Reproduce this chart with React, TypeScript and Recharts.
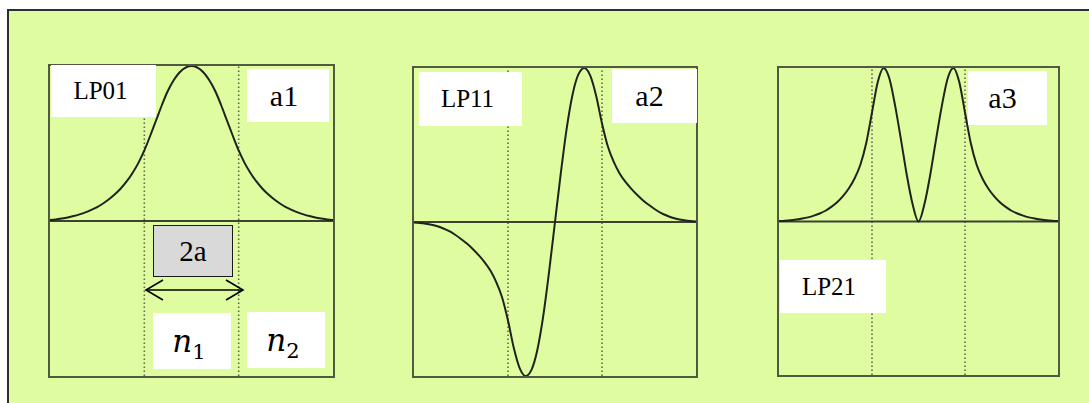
import React from 'react';
import { LineChart, Line, XAxis, YAxis, ReferenceLine } from 'recharts';

// position across the fibre, in core radii (core = -1..1)
const U = [
  -3, -2.875, -2.75, -2.625, -2.5, -2.375, -2.25, -2.125, -2, -1.875, -1.75, -1.625, -1.5,
  -1.375, -1.25, -1.125, -1, -0.875, -0.75, -0.625, -0.5, -0.375, -0.25, -0.125, 0,
  0.125, 0.25, 0.375, 0.5, 0.625, 0.75, 0.875, 1, 1.125, 1.25, 1.375, 1.5, 1.625, 1.75,
  1.875, 2, 2.125, 2.25, 2.375, 2.5, 2.625, 2.75, 2.875, 3,
];

const LP01 = [
  0.006, 0.01, 0.016, 0.023, 0.032, 0.043, 0.056, 0.072, 0.09, 0.113, 0.14, 0.172, 0.21,
  0.255, 0.31, 0.375, 0.455, 0.55, 0.65, 0.75, 0.84, 0.91, 0.96, 0.99, 1.0,
  0.99, 0.96, 0.91, 0.84, 0.75, 0.65, 0.55, 0.455, 0.375, 0.31, 0.255, 0.21, 0.172, 0.14,
  0.113, 0.09, 0.072, 0.056, 0.043, 0.032, 0.023, 0.016, 0.01, 0.006,
];

const LP11 = [
  -0.003, -0.006, -0.011, -0.018, -0.028, -0.042, -0.06, -0.083, -0.11, -0.14, -0.175, -0.215, -0.26,
  -0.315, -0.39, -0.49, -0.64, -0.82, -0.95, -1.0, -0.96, -0.83, -0.61, -0.32, 0,
  0.32, 0.61, 0.83, 0.96, 1.0, 0.95, 0.82, 0.64, 0.49, 0.39, 0.315, 0.26, 0.215, 0.175,
  0.14, 0.11, 0.083, 0.06, 0.042, 0.028, 0.018, 0.011, 0.006, 0.003,
];

const LP21 = [
  0.003, 0.005, 0.008, 0.013, 0.019, 0.027, 0.038, 0.052, 0.07, 0.095, 0.125, 0.165, 0.215,
  0.28, 0.37, 0.51, 0.71, 0.91, 1.0, 0.93, 0.75, 0.53, 0.3, 0.11, 0,
  0.11, 0.3, 0.53, 0.75, 0.93, 1.0, 0.91, 0.71, 0.51, 0.37, 0.28, 0.215, 0.165, 0.125,
  0.095, 0.07, 0.052, 0.038, 0.027, 0.019, 0.013, 0.008, 0.005, 0.003,
];

const CORE = [-1, 1];

const BG = '#dffca1';
const PANEL_BORDER = '#4f5a3e';

const serif = '"Liberation Serif", "Times New Roman", serif';

const Panel = ({ left, top, width, height, values }: any) => {
  const data = U.map((u, i) => ({ u, v: values[i] }));
  return (
    <div style={{ position: 'absolute', left: left - 2, top: top - 2, width, height, border: `2px solid ${PANEL_BORDER}` }}>
      <LineChart width={width} height={height} data={data} margin={{ top: 0, right: 0, bottom: 0, left: 0 }}>
        <XAxis type="number" dataKey="u" domain={[-3, 3]} hide />
        <YAxis type="number" domain={[-1, 1]} hide />
        {CORE.map(c => (
          <ReferenceLine key={c} x={c} stroke="#5f6852" strokeWidth={1.6} strokeDasharray="1.5 2.5" />
        ))}
        <ReferenceLine y={0} stroke="#3b4230" strokeWidth={2} />
        <Line type="monotone" dataKey="v" stroke="#1f231a" strokeWidth={2} dot={false} isAnimationActive={false} />
      </LineChart>
    </div>
  );
};

const Label = ({ left, top, width, height, text, size, fill = '#fff', border, shiftX = 0 }: any) => (
  <div
    style={{
      position: 'absolute', left, top, width, height, background: fill,
      border: border ? `1px solid ${border}` : 'none', boxSizing: 'border-box',
      display: 'flex', alignItems: 'center', justifyContent: 'center',
      fontFamily: serif, fontSize: size, color: '#000', paddingRight: shiftX,
    }}
  >
    {text}
  </div>
);

const NLabel = ({ left, top, sub }: any) => (
  <div
    style={{
      position: 'absolute', left, top, width: 78, height: 56, background: '#fff',
      display: 'flex', alignItems: 'center', justifyContent: 'center', paddingRight: 6, boxSizing: 'border-box',
    }}
  >
    <span style={{ fontFamily: '"DejaVu Serif", serif', fontStyle: 'italic', fontSize: 31, position: 'relative', top: 2 }}>
      n<span style={{ fontStyle: 'normal', fontSize: 21, verticalAlign: '-7px' }}>{sub}</span>
    </span>
  </div>
);

export default function App() {
  return (
    <div style={{ position: 'absolute', left: 0, top: 0, width: 1089, height: 403, background: '#fff', overflow: 'hidden' }}>
      <div
        style={{
          position: 'absolute', left: 7, top: 9, width: 1100, height: 420, background: BG,
          borderTop: '2px solid #2e2e2e', borderLeft: '2px solid #2e2e2e',
        }}
      />
      <Panel left={50} top={66} width={283} height={310} values={LP01} />
      <Panel left={414} top={68} width={282} height={308} values={LP11} />
      <Panel left={779} top={68} width={279} height={307} values={LP21} />

      <Label left={51} top={65} width={105} height={52} text="LP01" size={25} shiftX={6} />
      <Label left={247} top={69} width={82} height={53} text="a1" size={30} shiftX={8} />
      <Label left={153} top={225} width={80} height={52} text="2a" size={29} fill="#d9d9d9" border="#1a1a1a" />
      <NLabel left={153} top={313} sub="1" />
      <NLabel left={247} top={312} sub="2" />

      <Label left={419} top={72} width={103} height={54} text="LP11" size={25} shiftX={6} />
      <Label left={612} top={69} width={85} height={54} text="a2" size={30} shiftX={10} />

      <Label left={968} top={71} width={79} height={54} text="a3" size={30} shiftX={10} />
      <Label left={780} top={260} width={106} height={53} text="LP21" size={25} shiftX={8} />

      <svg style={{ position: 'absolute', left: 0, top: 0 }} width={1089} height={403}>
        <g stroke="#000" strokeWidth={1.6} fill="none">
          <line x1={146} y1={290} x2={243} y2={290} />
          <polyline points="163,280 146,290 163,300" />
          <polyline points="226,280 243,290 226,300" />
        </g>
      </svg>
    </div>
  );
}
